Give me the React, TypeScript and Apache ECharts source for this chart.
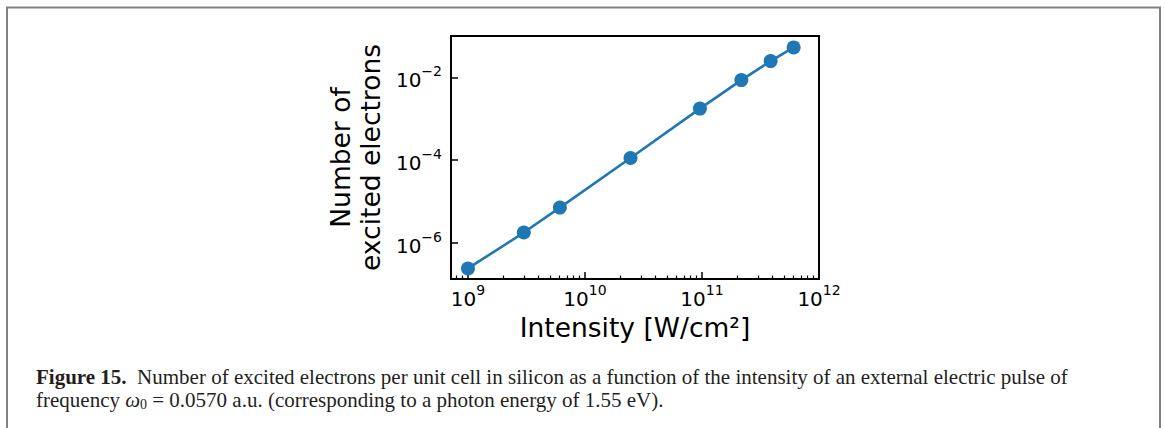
import React, { useEffect, useRef } from "react";
import * as echarts from "echarts";

const intensity = [1.0e9, 3.0e9, 6.1e9, 2.45e10, 9.6e10, 2.17e11, 3.86e11, 6.07e11];
const electrons = [2.4e-7, 1.77e-6, 7.1e-6, 1.12e-4, 1.76e-3, 8.6e-3, 2.47e-2, 5.3e-2];
const xMajorExponents = [9, 10, 11, 12];
const yMajorExponents = [-6, -4, -2];
const xMinorTickValues = [
  8e8, 9e8,
  2e9, 3e9, 4e9, 5e9, 6e9, 7e9, 8e9, 9e9,
  2e10, 3e10, 4e10, 5e10, 6e10, 7e10, 8e10, 9e10,
  2e11, 3e11, 4e11, 5e11, 6e11, 7e11, 8e11, 9e11,
];
const xTitle = "Intensity [W/cm²]";
const yTitle = "Number of\nexcited electrons";
const captionLine1 = "{b|Figure 15.}  Number of excited electrons per unit cell in silicon as a function of the intensity of an external electric pulse of";
const captionLine2 = "frequency {i|ω}{s|0} = 0.0570 a.u. (corresponding to a photon energy of 1.55 eV).";

const FONT = "DejaVu Sans";
const SERIF = "Liberation Serif";
const CAP = 21;

const powLabel = (v: number) => {
  const e = Math.round(v);
  const s = e < 0 ? "−" + Math.abs(e) : String(e);
  return `{b|10}{s|${s}}`;
};
const tickRich = {
  b: { fontSize: 20, fontFamily: FONT, color: "#000", lineHeight: 26, verticalAlign: "bottom" },
  s: { fontSize: 14, fontFamily: FONT, color: "#000", lineHeight: 26, verticalAlign: "top" },
};

export default function App() {
  const ref = useRef<HTMLDivElement>(null);
  useEffect(() => {
    if (!ref.current) return;
    const chart = echarts.init(ref.current, undefined, { renderer: "svg" });
    const xMin = 8.855, xMax = 12, yMin = -6.875, yMax = -1;
    chart.setOption({
      animation: false,
      backgroundColor: "#fff",
      grid: {
        left: 451, top: 36, width: 368, height: 243,
        show: true, borderColor: "#000", borderWidth: 2, backgroundColor: "transparent",
      },
      xAxis: [
        {
          type: "value", min: xMin, max: xMax,
          name: xTitle, nameLocation: "middle", nameGap: 34,
          nameTextStyle: { fontFamily: FONT, fontSize: 26.5, color: "#000" },
          axisLine: { show: true, lineStyle: { color: "#000", width: 2 } },
          axisTick: { show: true, inside: true, length: 7, lineStyle: { color: "#000", width: 1.5 }, customValues: xMajorExponents },
          axisLabel: { show: true, margin: 4, fontSize: 20, fontFamily: FONT, color: "#000", customValues: xMajorExponents, formatter: powLabel, rich: tickRich },
          splitLine: { show: false },
        },
        {
          type: "value", min: xMin, max: xMax, position: "bottom",
          axisLine: { show: false },
          axisTick: { show: true, inside: true, length: 3.5, lineStyle: { color: "#000", width: 1.2 }, customValues: xMinorTickValues.map((v) => Math.log10(v)) },
          axisLabel: { show: false },
          splitLine: { show: false },
        },
      ],
      yAxis: {
        type: "value", min: yMin, max: yMax,
        name: yTitle, nameLocation: "middle", nameGap: 66,
        nameTextStyle: { fontFamily: FONT, fontSize: 26.5, color: "#000", lineHeight: 30 },
        axisLine: { show: true, lineStyle: { color: "#000", width: 2 } },
        axisTick: { show: true, inside: true, length: 7, lineStyle: { color: "#000", width: 1.5 }, customValues: yMajorExponents },
        axisLabel: { show: true, margin: 9, fontSize: 20, fontFamily: FONT, color: "#000", customValues: yMajorExponents, formatter: powLabel, rich: tickRich },
        splitLine: { show: false },
      },
      series: [
        {
          type: "line",
          data: intensity.map((x, i) => [Math.log10(x), Math.log10(electrons[i])]),
          symbol: "circle", symbolSize: 14,
          lineStyle: { color: "#1f77b4", width: 2.6 },
          itemStyle: { color: "#1f77b4" },
        },
      ],
      graphic: [
        {
          type: "polyline", silent: true,
          shape: { points: [[7, 428], [7, 7.5], [1160, 7.5], [1160, 428]] },
          style: { stroke: "#808080", lineWidth: 2, fill: null },
        },
        {
          type: "text", x: 36, y: 387,
          style: {
            text: captionLine1, fontFamily: SERIF, fontSize: CAP, fill: "#231f20", verticalAlign: "bottom",
            rich: { b: { fontFamily: SERIF, fontSize: CAP, fontWeight: "bold", fill: "#231f20" } },
          },
        },
        {
          type: "text", x: 36, y: 411,
          style: {
            text: captionLine2, fontFamily: SERIF, fontSize: CAP, fill: "#231f20", verticalAlign: "bottom",
            rich: {
              i: { fontFamily: SERIF, fontSize: CAP, fontStyle: "italic", fill: "#231f20" },
              s: { fontFamily: SERIF, fontSize: 14, fill: "#231f20", padding: [9, 0, 0, 0] },
            },
          },
        },
      ],
    });
    return () => chart.dispose();
  }, []);
  return <div ref={ref} style={{ position: "absolute", left: 0, top: 0, width: 1165, height: 428 }} />;
}
